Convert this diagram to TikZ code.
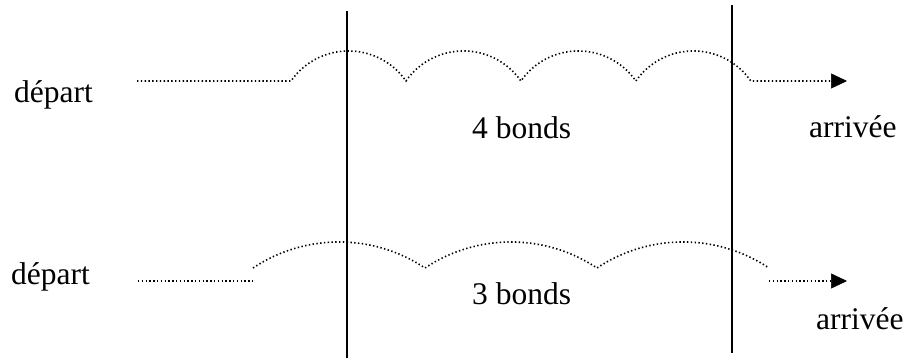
\documentclass[tikz,border=0pt]{standalone}
\usepackage{fontspec}
\setmainfont{Liberation Serif}
\usetikzlibrary{arrows.meta}
\begin{document}
\begin{tikzpicture}[x=1pt,y=1pt,
  lbl/.style={anchor=base west,inner sep=0pt,font=\fontsize{31.5}{36}\selectfont},
  hop/.style={line width=1.6pt,dash pattern=on 1.4pt off 2.4pt},
  bar/.style={line width=1.8pt},
  tip/.style={-{Triangle[length=16pt,width=15pt,line width=0.5pt]}}]
\useasboundingbox (0,0) rectangle (907,358);
% text
\node[lbl] (d1) at (14,255) {départ};
\node[lbl] (d2) at (11,73) {départ};
\node[lbl] (a1) at (809,220) {arrivée};
\node[lbl] (a2) at (816,28) {arrivée};
\node[lbl] (b4) at (472,219) {4 bonds};
\node[lbl] (b3) at (472,53) {3 bonds};
% vertical bars
\coordinate (v1t) at (347,347);
\coordinate (v1b) at (347,0);
\coordinate (v2t) at (732,353);
\coordinate (v2b) at (732,5);
\draw[bar] (v1t) -- (v1b);
\draw[bar] (v2t) -- (v2b);
% top row
\coordinate (s1) at (137,277);
\coordinate (h1) at (291,277);
\coordinate (e1) at (847,277);
\draw[hop,tip] (s1) -- (h1)
  arc[start angle=145.2,end angle=34.8,radius=70]
  arc[start angle=145.2,end angle=34.8,radius=70]
  arc[start angle=145.2,end angle=34.8,radius=70]
  arc[start angle=145.2,end angle=34.8,radius=70]
  -- (e1);
% bottom row
\coordinate (s2) at (138,77);
\coordinate (l2) at (253,77);
\coordinate (h2) at (253,90);
\coordinate (r2) at (769,77);
\coordinate (e2) at (847,77);
\draw[hop] (s2) -- (l2);
\draw[hop] (h2)
  arc[start angle=123.7,end angle=56.3,radius=155]
  arc[start angle=123.7,end angle=56.3,radius=155]
  arc[start angle=123.7,end angle=56.3,radius=155];
\draw[hop,tip] (r2) -- (e2);
\end{tikzpicture}
\end{document}
